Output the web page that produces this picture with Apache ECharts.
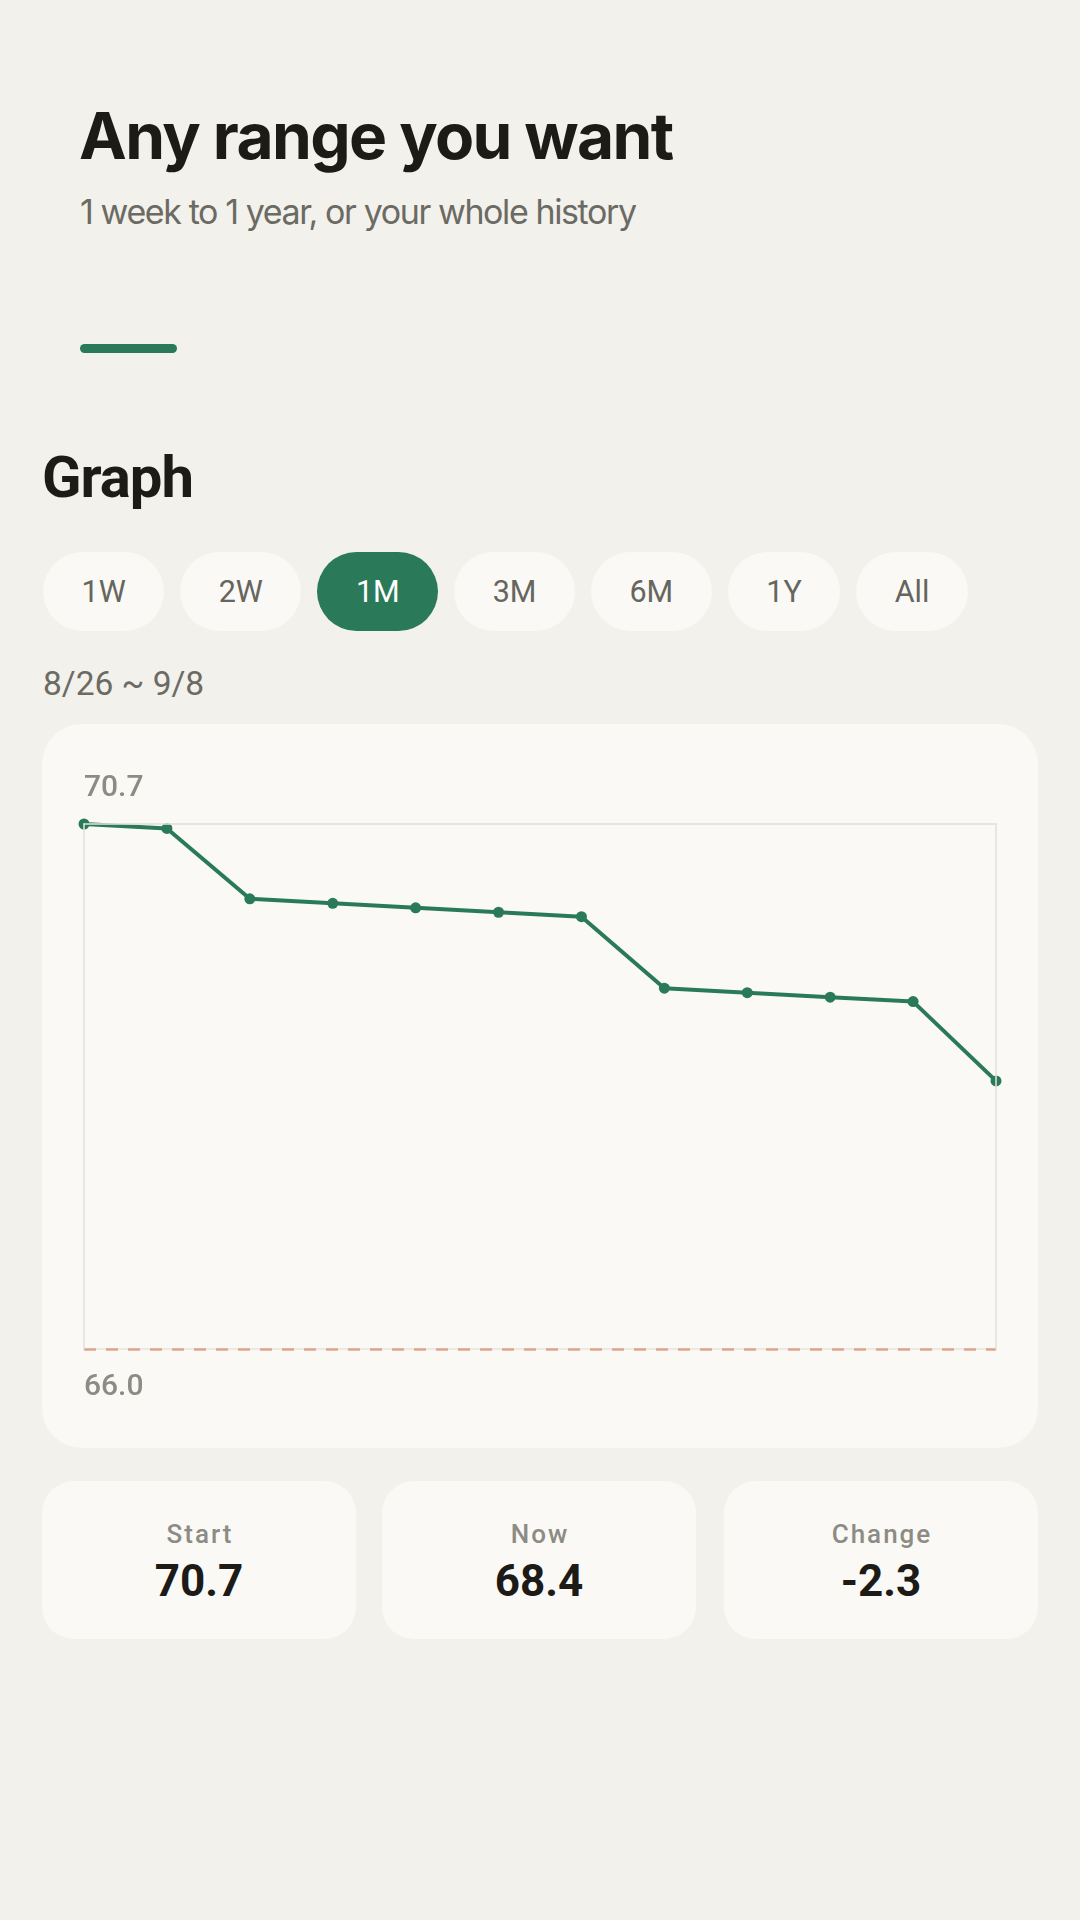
<!DOCTYPE html>
<html>
<head>
<meta charset="utf-8">
<script src="https://cdn.jsdelivr.net/npm/echarts@6/dist/echarts.min.js"></script>
<style>
  html, body { margin: 0; padding: 0; }
  body { width: 1080px; height: 1920px; background: #f2f1ec; position: relative; overflow: hidden; font-family: Roboto, "Noto Sans", sans-serif; }
  .abs { position: absolute; white-space: nowrap; }
  #title { left: 79px; top: 104px; font-family: Inter, Roboto, sans-serif; font-size: 64px; line-height: 64px; font-weight: 700; color: #1c1b18; letter-spacing: -1.6px; }
  #subtitle { left: 80px; top: 195px; font-family: Inter, Roboto, sans-serif; font-size: 34px; line-height: 34px; font-weight: 400; color: #6b6a63; letter-spacing: -1.4px; }
  #bar { left: 80px; top: 344px; width: 97px; height: 9px; border-radius: 5px; background: #2a7a5a; }
  #graph { left: 42px; top: 448px; font-size: 58px; line-height: 58px; font-weight: 700; color: #1c1b18; letter-spacing: -1px; }
  #pills { left: 43px; top: 552px; display: flex; gap: 16px; }
  .pill { height: 79px; line-height: 79px; padding: 0 38.5px; border-radius: 40px; background: #faf9f6; color: #66655e; font-size: 30.5px; }
  .pill.active { background: #2a7a5a; color: #ffffff; }
  #range { left: 43px; top: 667px; font-size: 33.5px; line-height: 33.5px; color: #6b6a63; }
  #card { left: 42px; top: 724px; width: 996px; height: 724px; border-radius: 40px; background: #faf9f6; }
  #chart { left: 42px; top: 724px; width: 996px; height: 724px; }
  .stat { top: 1481px; width: 314px; height: 158px; border-radius: 32px; background: #faf9f6; }
  .stat .lab { position: absolute; left: 0; right: 0; top: 40px; text-align: center; font-size: 26px; line-height: 26px; font-weight: 500; letter-spacing: 2px; text-indent: 2px; color: #8c8b84; }
  .stat .val { position: absolute; left: 0; right: 0; top: 78px; text-align: center; font-size: 44px; line-height: 44px; font-weight: 700; color: #1c1b18; }
</style>
</head>
<body>
<div id="title" class="abs">Any range you want</div>
<div id="subtitle" class="abs">1 week to 1 year, or your whole history</div>
<div id="bar" class="abs"></div>
<div id="graph" class="abs">Graph</div>
<div id="pills" class="abs"></div>
<div id="range" class="abs"></div>
<div id="card" class="abs"></div>
<div id="chart" class="abs"></div>
<div id="stats"></div>
<script>
// ---- data ----
const rangeOptions = ['1W', '2W', '1M', '3M', '6M', '1Y', 'All'];
const activeRange = '1M';
const rangeLabel = '8/26 ~ 9/8';
const dates = ['8/26', '8/27', '8/28', '8/29', '8/30', '8/31', '9/1', '9/2', '9/3', '9/4', '9/5', '9/6'];
const weights = [70.7, 70.66, 70.03, 69.99, 69.95, 69.91, 69.87, 69.23, 69.19, 69.15, 69.11, 68.4];
const yMin = 66.0;
const yMax = 70.7;
const yTicks = [66.0, 70.7];
const goalValue = 66.0;
const statLabels = ['Start', 'Now', 'Change'];
const statValues = ['70.7', '68.4', '-2.3'];

// ---- page chrome ----
const pills = document.getElementById('pills');
rangeOptions.forEach(r => {
  const d = document.createElement('div');
  d.className = 'pill' + (r === activeRange ? ' active' : '');
  d.textContent = r;
  pills.appendChild(d);
});
document.getElementById('range').textContent = rangeLabel;
const statLeft = [42, 382, 724];
const stats = document.getElementById('stats');
statLabels.forEach((l, i) => {
  const c = document.createElement('div');
  c.className = 'abs stat';
  c.style.left = statLeft[i] + 'px';
  c.innerHTML = '<div class="lab"></div><div class="val"></div>';
  c.querySelector('.lab').textContent = l;
  c.querySelector('.val').textContent = statValues[i];
  stats.appendChild(c);
});

// ---- chart ----
const chart = echarts.init(document.getElementById('chart'), null, { renderer: 'canvas' });
const frame = '#e6e4df';
const green = '#2a7a5a';
const labelStyle = { fontFamily: 'Roboto', fontSize: 30, fontWeight: 500, color: '#8c8b84' };
chart.setOption({
  animation: false,
  backgroundColor: 'transparent',
  grid: { left: 42, right: 42, top: 100, bottom: 99, show: true, borderColor: frame, borderWidth: 1.5, backgroundColor: 'transparent' },
  xAxis: [
    { type: 'category', data: dates, boundaryGap: false, position: 'top', z: 5,
      axisLine: { show: true, lineStyle: { color: frame, width: 1.5 } },
      axisTick: { show: false }, axisLabel: { show: false }, splitLine: { show: false } }
  ],
  yAxis: [
    { type: 'value', min: yMin, max: yMax, position: 'left', z: 5,
      axisLine: { show: true, lineStyle: { color: frame, width: 1.5 } },
      axisTick: { show: false }, splitLine: { show: false },
      axisLabel: {
        show: true, inside: true, margin: 0, customValues: yTicks,
        fontFamily: 'Roboto', fontSize: 30, color: '#8c8b84', align: 'left',
        formatter: v => Math.abs(v - yMax) < 1e-6 ? '{t|' + v.toFixed(1) + '}' : '{b|' + v.toFixed(1) + '}',
        rich: {
          t: Object.assign({ padding: [0, 0, 72, 0] }, labelStyle),
          b: Object.assign({ padding: [76, 0, 0, 0] }, labelStyle)
        }
      } },
    { type: 'value', min: yMin, max: yMax, position: 'right', z: 5,
      axisLine: { show: true, lineStyle: { color: frame, width: 1.5 } },
      axisTick: { show: false }, splitLine: { show: false }, axisLabel: { show: false } }
  ],
  series: [{
    type: 'line',
    data: weights,
    z: 2,
    symbol: 'circle',
    symbolSize: 11,
    showSymbol: true,
    lineStyle: { color: green, width: 4 },
    itemStyle: { color: green },
    markLine: {
      silent: true, symbol: 'none', label: { show: false },
      lineStyle: { color: '#dca68c', type: [12, 10], width: 2.5 },
      data: [{ yAxis: goalValue }]
    }
  }]
});
</script>
</body>
</html>
